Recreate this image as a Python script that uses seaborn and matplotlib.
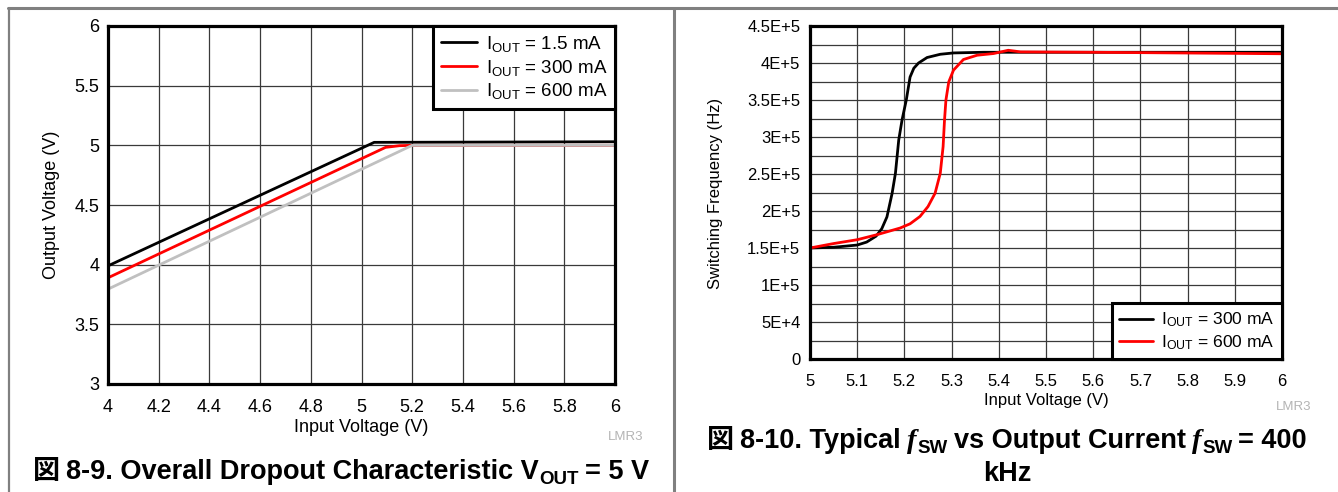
import matplotlib
matplotlib.use("Agg")
import matplotlib.pyplot as plt
from matplotlib.lines import Line2D
from matplotlib.ticker import MultipleLocator
import seaborn as sns
import pandas as pd

# ---- Dropout characteristic data (input voltage vs output voltage) ----
vin_1p5ma = [4.0, 5.05, 6.0]
vout_1p5ma = [3.99, 5.025, 5.03]
vin_300ma = [4.0, 5.095, 5.15, 5.2, 6.0]
vout_300ma = [3.89, 4.983, 4.997, 5.0, 5.0]
vin_600ma = [4.0, 5.2, 6.0]
vout_600ma = [3.795, 5.0, 5.0]

dropout_labels = ["1.5 mA", "300 mA", "600 mA"]
vin_ticks_a = ["4", "4.2", "4.4", "4.6", "4.8", "5", "5.2", "5.4", "5.6", "5.8", "6"]
vout_ticks = ["3", "3.5", "4", "4.5", "5", "5.5", "6"]

# ---- Switching frequency data (input voltage vs fsw) ----
vin_fsw_300 = [5.0, 5.05, 5.1, 5.12, 5.14, 5.152, 5.163, 5.174, 5.181, 5.188,
               5.195, 5.204, 5.212, 5.22, 5.23, 5.248, 5.276, 5.304, 5.368,
               5.5, 6.0]
fsw_300 = [150000, 151000, 154000, 158000, 166000, 176000, 192000, 224000,
           251000, 296000, 323000, 350000, 381000, 393000, 400000, 407400,
           411800, 413600, 414500, 414500, 414500]
vin_fsw_600 = [5.0, 5.05, 5.1, 5.142, 5.191, 5.212, 5.233, 5.25, 5.265,
               5.276, 5.282, 5.285, 5.288, 5.294, 5.304, 5.325, 5.354,
               5.389, 5.42, 5.446, 5.6, 6.0]
fsw_600 = [150000, 156000, 161200, 168000, 177000, 182700, 192600, 206000,
           224000, 251000, 287000, 323000, 350000, 374500, 390300, 404700,
           410500, 412800, 417200, 415000, 414500, 412500]

fsw_labels = ["300 mA", "600 mA"]
vin_ticks_b = ["5", "5.1", "5.2", "5.3", "5.4", "5.5", "5.6", "5.7", "5.8", "5.9", "6"]
fsw_ticks = [0, 50000, 100000, 150000, 200000, 250000, 300000, 350000, 400000, 450000]
fsw_ticklabels = ["0", "5E+4", "1E+5", "1.5E+5", "2E+5", "2.5E+5", "3E+5",
                  "3.5E+5", "4E+5", "4.5E+5"]

sns.set_style("white")
plt.rcParams["font.family"] = ["Liberation Sans", "Noto Sans CJK JP"]
plt.rcParams["text.color"] = "black"
plt.rcParams["mathtext.fontset"] = "custom"
plt.rcParams["mathtext.rm"] = "Liberation Sans"
plt.rcParams["mathtext.it"] = "Liberation Sans:italic"
plt.rcParams["mathtext.bf"] = "Liberation Sans:bold"

W, H = 1338, 492
fig = plt.figure(figsize=(W / 100, H / 100), dpi=100)


def fx(px):
    return px / W


def fy(py):
    return 1 - py / H


def axes_px(x0, y0, x1, y1):
    return fig.add_axes([fx(x0), fy(y1), fx(x1) - fx(x0), fy(y0) - fy(y1)])


GRID = "#3a3a3a"
SPINE_W = 2.3
LINE_W = 2.0
SANS = ["Liberation Sans", "Noto Sans CJK JP"]
CJK = ["Noto Sans CJK JP"]


def style_axes(ax, fs, xpad, ypad):
    for s in ax.spines.values():
        s.set_linewidth(SPINE_W)
        s.set_color("black")
        s.set_visible(True)
    ax.tick_params(axis="both", which="both", length=0, labelsize=fs,
                   colors="black")
    ax.tick_params(axis="x", pad=xpad)
    ax.tick_params(axis="y", pad=ypad)
    ax.grid(True, which="both", color=GRID, linewidth=0.9)
    ax.set_axisbelow(True)


def legend(ax, fs, loc, spacing):
    leg = ax.legend(loc=loc, frameon=True, fancybox=False, fontsize=fs,
                    borderaxespad=0, handlelength=1.95, handletextpad=0.45,
                    labelspacing=spacing, borderpad=0.42)
    fr = leg.get_frame()
    fr.set_edgecolor("black")
    fr.set_linewidth(2.2)
    fr.set_alpha(1)
    return leg


def rich_line(cx_px, base_px, segs):
    """Lay out text segments side by side on one baseline, centred at cx."""
    items = []
    for text, kw, dy, gap in segs:
        t = fig.text(0, 0, text, ha="left", va="baseline", **kw)
        items.append((t, dy, gap))
    fig.canvas.draw()
    r = fig.canvas.get_renderer()
    widths = [t.get_window_extent(r).width for t, _, _ in items]
    total = sum(widths) + sum(g for _, _, g in items[:-1])
    x = cx_px - total / 2
    for (t, dy, gap), w in zip(items, widths):
        t.set_position((fx(x), fy(base_px + dy)))
        x += w + gap


# ---- Left panel: output voltage vs input voltage ----
ax1 = axes_px(108, 26, 615, 384)
df_a = pd.DataFrame({"vin": vin_1p5ma, "vout": vout_1p5ma})
df_b = pd.DataFrame({"vin": vin_300ma, "vout": vout_300ma})
df_c = pd.DataFrame({"vin": vin_600ma, "vout": vout_600ma})
for df, col, lab in [(df_a, "black", dropout_labels[0]),
                     (df_b, "#ff0000", dropout_labels[1]),
                     (df_c, "#c0c0c0", dropout_labels[2])]:
    sns.lineplot(data=df, x="vin", y="vout", ax=ax1, color=col, lw=LINE_W,
                 sort=False, estimator=None,
                 label=r"I$_\mathrm{OUT}$ = " + lab)
ax1.set_xlim(4, 6)
ax1.set_ylim(3, 6)
ax1.set_xticks([4 + 0.2 * i for i in range(11)])
ax1.set_xticklabels(vin_ticks_a)
ax1.set_yticks([3 + 0.5 * i for i in range(7)])
ax1.set_yticklabels(vout_ticks)
style_axes(ax1, 13, 11, 6)
ax1.set_xlabel("")
ax1.set_ylabel("")
legend(ax1, 13.5, "upper right", 0.2)

fig.text(fx(361), fy(428), "Input Voltage (V)", ha="center", va="center",
         fontsize=13)
fig.text(fx(52), fy(205), "Output Voltage (V)", ha="center", va="center",
         rotation=90, fontsize=13)
fig.text(fx(643), fy(437), "LMR3", ha="right", va="center", fontsize=9.5,
         color="#b4b4b4")

TS = 19.5
SUB = 13.5
bold = dict(fontsize=TS, fontweight="bold", family=SANS)
bold_cjk = dict(fontsize=TS, fontweight="bold", family=CJK)
bold_sub = dict(fontsize=SUB, fontweight="bold", family=SANS)
f_ital = dict(fontsize=TS + 1, fontweight="bold", fontstyle="italic",
              family=["Liberation Serif"])

rich_line(341, 479, [
    ("図", bold_cjk, 0, 6),
    ("8-9. Overall Dropout Characteristic V", bold, 0, 0),
    ("OUT", bold_sub, 5, 6),
    ("= 5 V", bold, 0, 0),
])

# ---- Right panel: switching frequency vs input voltage ----
ax2 = axes_px(810, 26, 1282, 359)
df_f1 = pd.DataFrame({"vin": vin_fsw_300, "fsw": fsw_300})
df_f2 = pd.DataFrame({"vin": vin_fsw_600, "fsw": fsw_600})
for df, col, lab in [(df_f1, "black", fsw_labels[0]),
                     (df_f2, "#ff0000", fsw_labels[1])]:
    sns.lineplot(data=df, x="vin", y="fsw", ax=ax2, color=col, lw=LINE_W,
                 sort=False, estimator=None,
                 label=r"I$_\mathrm{OUT}$ = " + lab)
ax2.set_xlim(5, 6)
ax2.set_ylim(0, 450000)
ax2.set_xticks([5 + 0.1 * i for i in range(11)])
ax2.set_xticklabels(vin_ticks_b)
ax2.set_yticks(fsw_ticks)
ax2.set_yticklabels(fsw_ticklabels)
ax2.yaxis.set_minor_locator(MultipleLocator(25000))
style_axes(ax2, 12, 11, 7)
ax2.set_xlabel("")
ax2.set_ylabel("")
legend(ax2, 12.6, "lower right", 0.2)

fig.text(fx(1046), fy(400), "Input Voltage (V)", ha="center", va="center",
         fontsize=12)
fig.text(fx(716), fy(193), "Switching Frequency (Hz)", ha="center",
         va="center", rotation=90, fontsize=12)
fig.text(fx(1311), fy(407), "LMR3", ha="right", va="center", fontsize=9.5,
         color="#b4b4b4")

rich_line(1007, 448, [
    ("図", bold_cjk, 0, 6),
    ("8-10. Typical", bold, 0, 6),
    ("f", f_ital, 0, 1),
    ("SW", bold_sub, 5, 6),
    ("vs Output Current", bold, 0, 6),
    ("f", f_ital, 0, 1),
    ("SW", bold_sub, 5, 6),
    ("= 400", bold, 0, 0),
])
rich_line(1007, 481, [("kHz", bold, 0, 0)])

# ---- Page frame lines ----
FRAME = "#808080"
fig.add_artist(Line2D([fx(8), 1], [fy(8), fy(8)], color=FRAME, lw=2.2))
fig.add_artist(Line2D([fx(8.5), fx(8.5)], [fy(8), 0], color=FRAME, lw=1.6))
fig.add_artist(Line2D([fx(674), fx(674)], [fy(8), 0], color=FRAME, lw=2.2))

fig.savefig("out.png", dpi=100)
